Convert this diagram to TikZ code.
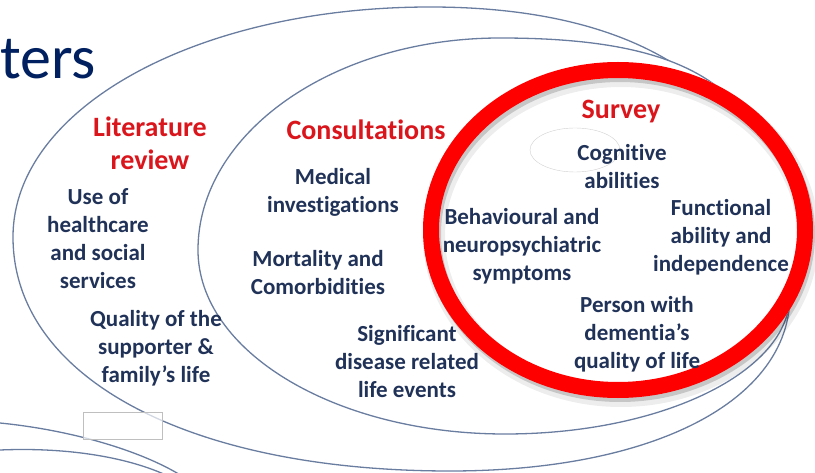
\documentclass[tikz,border=0pt]{standalone}
\usepackage{fontspec}
\setmainfont{Carlito}[Ligatures=NoCommon]
\usetikzlibrary{positioning, shapes.geometric}

\definecolor{ovalline}{RGB}{105,125,160}
\definecolor{ringred}{RGB}{255,0,0}
\definecolor{headred}{RGB}{218,22,28}
\definecolor{itemblue}{RGB}{32,50,88}
\definecolor{titlenavy}{RGB}{0,32,96}

\begin{document}
\begin{tikzpicture}[
        x=1pt, y=-1pt,
        % Big ovals (literature review, consultations)
        oval/.style={
            draw=ovalline, line width=1.3pt, fill=white
        },
        % Survey ring
        ring/.style={
            ellipse, draw=ringred, line width=16pt, inner sep=0pt,
            minimum width=374pt, minimum height=320pt
        },
        ringfill/.style={
            ellipse, fill=white, inner sep=0pt,
            minimum width=390pt, minimum height=336pt
        },
        ringshadow/.style={
            ellipse, draw=black, inner sep=0pt,
            minimum width=374pt, minimum height=320pt
        },
        % Texts
        heading/.style={text=headred, align=center, inner sep=0pt,
            font=\bfseries\fontsize{28}{33}\selectfont},
        topic/.style={text=itemblue, align=center, inner sep=0pt,
            font=\bfseries\fontsize{23}{28}\selectfont}
    ]

        \useasboundingbox (0,0) rectangle (815,473);

        % Ovals: four quarter curves each, meeting at left, top, right, bottom
        \draw[oval] (13,237)
            .. controls (13,108.2) and (196.5,7) .. (430,7)
            .. controls (664,7) and (790,107.8) .. (790,295)
            .. controls (790,400.6) and (654,471) .. (450,471)
            .. controls (187.8,471) and (13,377.4) .. cycle;
        \draw[oval] (198,250)
            .. controls (198,133) and (333.3,38) .. (500,38)
            .. controls (717.5,38) and (790,102.25) .. (790,295)
            .. controls (790,371.7) and (662.3,434) .. (505,434)
            .. controls (335.5,434) and (198,351.6) .. cycle;

        % Stray shapes at the lower left
        \draw[ovalline, line width=1.3pt] (0,423) .. controls (70,430) and (140,450) .. (182,476);
        \draw[ovalline, line width=1.3pt] (0,450) .. controls (70,447) and (130,458) .. (168,476);
        \node[draw=gray!50, fill=white, fill opacity=0.7, inner sep=0pt,
              minimum width=79pt, minimum height=27pt] (box) at (122.5,425.5) {};

        % Survey ring with its shadow
        \node[ringfill] (surveybg) at (618,230) {};
        \node[ringshadow, line width=22pt, draw opacity=0.07] (shadowA) at (621,236) {};
        \node[ringshadow, line width=16pt, draw opacity=0.16] (shadowB) at (620,234) {};
        \node[ring] (survey) at (618,230) {};
        \node[ellipse, draw=gray!35, fill=white, inner sep=0pt,
              minimum width=90pt, minimum height=44pt] (blob) at (575,150) {};

        % Title
        \node[anchor=base east, inner sep=0pt, text=titlenavy,
              font=\fontsize{62}{64}\selectfont] (title) at (96,79) {ters};

        % Headings
        \node[heading] (litT) at (150,143) {Literature\\review};
        \node[heading] (consT) at (366,130) {Consultations};
        \node[heading] (survT) at (621,112) {Survey};

        % Literature review
        \node[topic] (use) at (98,239) {Use of\\healthcare\\and social\\services};
        \node[topic] (quality) at (156,348) {Quality of the\\supporter \&\\family’s life};

        % Consultations
        \node[topic] (medical) at (333,192) {Medical\\investigations};
        \node[topic] (mortality) at (318,273) {Mortality and\\Comorbidities};
        \node[topic] (events) at (407,362) {Significant\\disease related\\life events};

        % Survey
        \node[topic] (cognitive) at (622,167) {Cognitive\\abilities};
        \node[topic] (behaviour) at (522,246) {Behavioural and\\neuropsychiatric\\symptoms};
        \node[topic] (functional) at (721,237) {Functional\\ability and\\independence};
        \node[topic] (person) at (637,334) {Person with\\dementia’s\\quality of life};

    \end{tikzpicture}
\end{document}
